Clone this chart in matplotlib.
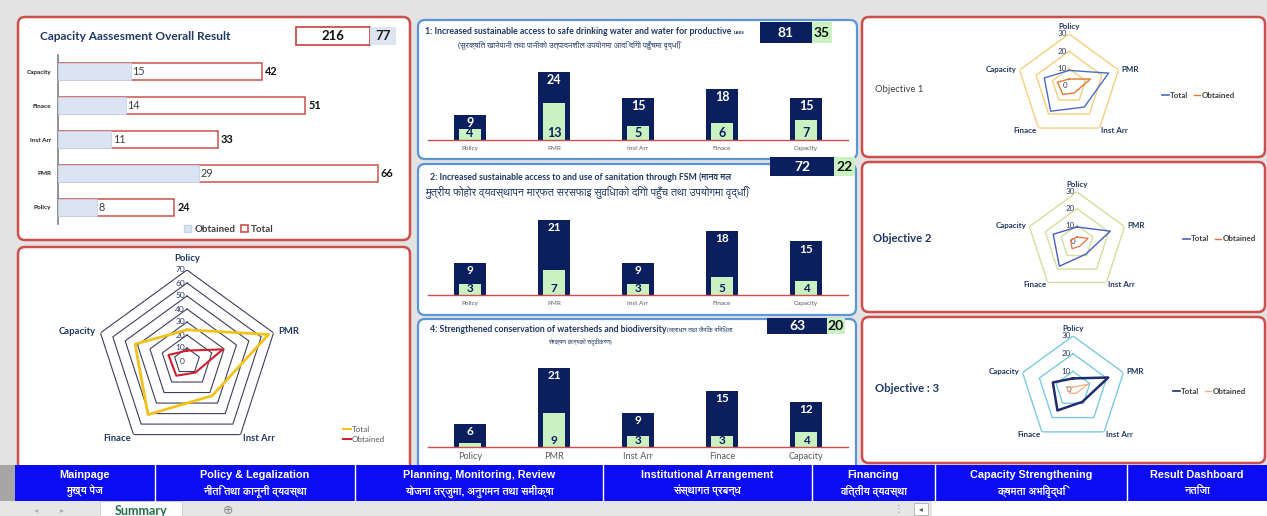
import numpy as np
import matplotlib
matplotlib.use('Agg')
import matplotlib.pyplot as plt
from matplotlib import font_manager
from matplotlib.patches import FancyBboxPatch, Rectangle, Patch
from matplotlib.lines import Line2D

# ---------------- data ----------------
categories = ['Policy', 'PMR', 'Inst Arr', 'Finace', 'Capacity']
overall_total = [24, 66, 33, 51, 42]
overall_obtained = [8, 29, 11, 14, 15]

obj1_total = [9, 24, 15, 18, 15]
obj1_obtained = [4, 13, 5, 6, 7]
obj2_total = [9, 21, 9, 18, 15]
obj2_obtained = [3, 7, 3, 5, 4]
obj4_total = [6, 21, 9, 15, 12]
obj4_obtained = [1, 9, 3, 3, 4]

big_radar_ticks = [0, 10, 20, 30, 40, 50, 60, 70]
small_radar_ticks = [0, 10, 20, 30]

title_overall = 'Capacity Aassesment Overall Result'
title_obj1 = '1: Increased sustainable access to safe drinking water and water for productive'
title_obj1_tail = 'uses'
sub_obj1 = '(सुरक्षित खानेपानी तथा पानीको उत्पादनशील उपयोगमा आदि दिगो पहुँचमा वृद्धि)'
title_obj2 = '2: Increased sustainable access to and use of sanitation through FSM (मानव मल'
sub_obj2 = 'मुत्रीय फोहोर व्यवस्थापन मार्फत सरसफाइ सुविधाको दिगो पहुँच तथा उपयोगमा वृद्धि)'
title_obj4 = '4: Strengthened conservation of watersheds and biodiversity'
title_obj4_tail = '(जलाधार तथा जैविक विविधता'
sub_obj4 = 'संरक्षण कार्यको सदृढीकरण)'
radar_names = ['Objective 1', 'Objective 2', 'Objective : 3']

nav_en = ['Mainpage', 'Policy & Legalization', 'Planning, Monitoring, Review',
          'Institutional Arrangement', 'Financing', 'Capacity Strengthening',
          'Result Dashboard']
nav_ne = ['मुख्य पेज', 'नीति तथा कानूनी व्यवस्था', 'योजना तर्जुमा, अनुगमन तथा समीक्षा',
          'संस्थागत प्रबन्ध', 'वित्तीय व्यवस्था', 'क्षमता अभिवृद्धि', 'नतिजा']
sheet_tab = 'Summary'

# ---------------- fonts ----------------
deva = []
keys = ('Devanagari', 'Lohit', 'Mukta', 'Hind', 'Kalimati', 'Gargi', 'Sarai',
        'Samanata', 'FreeSans', 'FreeSerif', 'Mangal', 'Kokila', 'Nirmala')
for f in font_manager.fontManager.ttflist:
    if any(k in f.name for k in keys) and f.name not in deva:
        deva.append(f.name)
plt.rcParams['font.family'] = ['Lato'] + deva + ['DejaVu Sans']
NAVFONT = ['Liberation Sans'] + deva + ['DejaVu Sans']

# ---------------- colours ----------------
NAVY = '#0b1f5e'
GREEN = '#c9f1c1'
RED = '#cc4f4c'
BLUEB = '#5b95d3'
TITLE = '#1f3864'
LIGHTBLUE = '#dae4f3'

W, H = 1267, 516
fig = plt.figure(figsize=(W / 100, H / 100), dpi=100)
fig.patch.set_facecolor('#e3e3e3')


def px(x0, y0, x1, y1):
    return [x0 / W, 1 - y1 / H, (x1 - x0) / W, (y1 - y0) / H]


bg = fig.add_axes([0, 0, 1, 1])
bg.set_xlim(0, W)
bg.set_ylim(H, 0)
bg.axis('off')


def panel(x0, y0, x1, y1, ec, lw=1.8):
    bg.add_patch(FancyBboxPatch((x0, y0), x1 - x0, y1 - y0,
                                boxstyle='round,pad=0,rounding_size=7',
                                fc='white', ec=ec, lw=lw))


panel(18, 17, 410, 240, RED)
panel(18, 247, 410, 485, RED)
panel(418, 20, 857, 159, BLUEB, 1.6)
panel(418, 164, 856, 315, BLUEB, 1.6)
panel(418, 319, 856, 485, BLUEB, 1.6)
panel(862, 17, 1265, 157, RED)
panel(862, 162, 1265, 312, RED)
panel(862, 317, 1265, 463, RED)


def value_box(x0, x1, x2, y0, y1, total, obtained, fs=10):
    bg.add_patch(Rectangle((x0, y0), x1 - x0, y1 - y0, fc=NAVY, ec='none', zorder=3))
    bg.add_patch(Rectangle((x1, y0), x2 - x1, y1 - y0, fc=GREEN, ec='none', zorder=3))
    bg.text((x0 + x1) / 2, (y0 + y1) / 2 + 0.5, str(total), color='white', fontsize=fs,
            fontweight='bold', ha='center', va='center', zorder=4)
    bg.text((x1 + x2) / 2, (y0 + y1) / 2 + 0.5, str(obtained), color='#111111', fontsize=fs,
            fontweight='bold', ha='center', va='center', zorder=4)


# ---------------- overall horizontal bar chart ----------------
bg.text(40, 36, title_overall, fontsize=8.6, fontweight='bold', color=TITLE,
        ha='left', va='center')
bg.add_patch(Rectangle((296, 27), 74, 18, fc='white', ec=RED, lw=1.3, zorder=3))
bg.add_patch(Rectangle((370, 27), 26, 18, fc='#dde6f0', ec='none', zorder=3))
bg.text(333, 36.5, str(sum(overall_total)), fontsize=9.5, fontweight='bold', color='#111111',
        ha='center', va='center', zorder=4)
bg.text(383, 36.5, str(sum(overall_obtained)), fontsize=9.5, fontweight='bold', color='#222222',
        ha='center', va='center', zorder=4)

axh = fig.add_axes(px(58, 55, 400, 224))
axh.patch.set_alpha(0)
yy = np.arange(len(categories))
axh.barh(yy, overall_total, height=0.5, color='white', edgecolor=RED, lw=1.1, zorder=2,
         label='Total')
axh.barh(yy, overall_obtained, height=0.5, color=LIGHTBLUE, edgecolor='#c6d3e8', lw=0.6,
         zorder=3, label='Obtained')
axh.set_xlim(0, 70.5)
axh.set_ylim(-0.5, 4.5)
axh.set_xticks([])
axh.set_yticks(yy)
axh.set_yticklabels(categories, fontsize=4.6, fontweight='bold', color='#222222')
axh.tick_params(axis='y', length=0, pad=5)
for s in ['top', 'right', 'bottom']:
    axh.spines[s].set_visible(False)
axh.spines['left'].set_color('#7f7f7f')
axh.spines['left'].set_linewidth(1.2)
for y, t, o in zip(yy, overall_total, overall_obtained):
    axh.annotate(str(o), (o, y), xytext=(1.2, 0), textcoords='offset points',
                 ha='left', va='center', fontsize=7.8, color='#404040', zorder=5)
    axh.annotate(str(t), (t, y), xytext=(2, 0), textcoords='offset points',
                 ha='left', va='center', fontsize=7.8, fontweight='bold', color='#111111',
                 zorder=5)
fig.legend(handles=[Patch(fc=LIGHTBLUE, ec='#c6d3e8', label='Obtained'),
                    Patch(fc='white', ec=RED, lw=1.2, label='Total')],
           loc='center', bbox_to_anchor=(229 / W, 1 - 229 / H), ncol=2, frameon=False,
           handlelength=0.7, handleheight=0.7, handletextpad=0.3,
           columnspacing=0.6, labelcolor='#404040', prop={'weight': 'bold', 'size': 7})

# ---------------- radar helpers ----------------
N = len(categories)
angles = np.arange(N) * 2 * np.pi / N
closed = np.r_[angles, angles[0]]


def radar(cx, cy, R, ticks, series, grid_color, grid_lw, lab_fs, tick_fs, tick_color):
    ax = fig.add_axes(px(cx - R, cy - R, cx + R, cy + R), projection='polar')
    ax.set_theta_offset(np.pi / 2)
    ax.set_theta_direction(-1)
    ax.set_ylim(0, ticks[-1])
    ax.grid(False)
    ax.spines['polar'].set_visible(False)
    ax.set_xticks([])
    ax.set_yticks([])
    ax.patch.set_alpha(0)
    for r in ticks[1:]:
        ax.plot(closed, [r] * (N + 1), color=grid_color, lw=grid_lw, zorder=1)
    for r in ticks:
        ax.annotate(str(r), (0, r), xytext=(-1.5, 0), textcoords='offset points',
                    ha='right', va='center', fontsize=tick_fs, color=tick_color, zorder=2)
    rmax = ticks[-1]
    for a, name in zip(angles, categories):
        s, c = np.sin(a), np.cos(a)
        ha = 'left' if s > 0.1 else ('right' if s < -0.1 else 'center')
        va = 'bottom' if c > 0.9 else 'center'
        rr = rmax * (1.08 if c > 0.9 else 1.05)
        ax.text(a, rr, name, ha=ha, va=va, fontsize=lab_fs, fontweight='bold',
                color=TITLE, zorder=3)
    for vals, col, lw in series:
        ax.plot(closed, list(vals) + [vals[0]], color=col, lw=lw, zorder=4)
    return ax


# big radar
radar(187, 361, 91, big_radar_ticks,
      [(overall_total, '#f1c21b', 2.0), (overall_obtained, '#d0202e', 1.5)],
      '#3c3f5c', 0.8, 6.8, 6.0, '#2a3a6a')
fig.legend(handles=[Line2D([], [], color='#f1c21b', lw=1.5, label='Total'),
                    Line2D([], [], color='#d0202e', lw=1.5, label='Obtained')],
           loc='upper left', bbox_to_anchor=(336 / W, 1 - 419 / H), frameon=False,
           fontsize=5.8, handlelength=0.9, handletextpad=0.2, labelspacing=0.35,
           labelcolor='#595959')

# small radars
small = [
    (1069, 86, 52, obj1_total, obj1_obtained, '#f4cf7c', '#4a6cc8', 1.0, '#e07b30', 1.0),
    (1077, 242, 50, obj2_total, obj2_obtained, '#d3df9a', '#4a5cc0', 1.0, '#ec7040', 0.9),
    (1073, 389, 53, obj4_total, obj4_obtained, '#7cc9e2', '#1f2d6c', 1.8, '#f2ae80', 0.9),
]
legend_pos = [(1155, 95), (1176, 239), (1166, 391)]
for (cx, cy, R, tot, obt, gc, tc, tlw, oc, olw), (lx, ly) in zip(small, legend_pos):
    radar(cx, cy, R, small_radar_ticks, [(tot, tc, tlw), (obt, oc, olw)],
          gc, 1.0, 5.8, 5.8, '#2a3a6a')
    fig.legend(handles=[Line2D([], [], color=tc, lw=1.2, label='Total'),
                        Line2D([], [], color=oc, lw=1.0, label='Obtained')],
               loc='center left', bbox_to_anchor=(lx / W, 1 - ly / H), ncol=2,
               frameon=False, handlelength=0.8, handletextpad=0.15, columnspacing=0.7,
               labelcolor='#404040', prop={'weight': 'bold', 'size': 5.8})

bg.text(875, 89, radar_names[0], fontsize=6.8, color='#404040', ha='left', va='center')
bg.text(873, 239, radar_names[1], fontsize=8.2, fontweight='bold', color=TITLE,
        ha='left', va='center')
bg.text(875, 389, radar_names[2], fontsize=8.2, fontweight='bold', color=TITLE,
        ha='left', va='center')

# ---------------- objective bar charts ----------------


def obj_bars(y_top, y_base, ymax, totals, obtained, lab_fs, lab_pad, val_fs):
    ax = fig.add_axes(px(428, y_top, 848, y_base))
    ax.patch.set_alpha(0)
    x = np.arange(len(categories))
    ax.bar(x, totals, width=0.39, color=NAVY, zorder=2)
    ax.bar(x, obtained, width=0.26, color=GREEN, zorder=3)
    ax.set_xlim(-0.5, len(categories) - 0.5)
    ax.set_ylim(0, ymax)
    for s in ['top', 'right', 'left']:
        ax.spines[s].set_visible(False)
    ax.spines['bottom'].set_color(RED)
    ax.spines['bottom'].set_linewidth(1.0)
    ax.spines['bottom'].set_zorder(5)
    ax.set_yticks([])
    ax.set_xticks(x)
    ax.set_xticklabels(categories, fontsize=lab_fs, color='#595959')
    ax.tick_params(axis='x', length=0, pad=lab_pad)
    for xi, t, o in zip(x, totals, obtained):
        ax.annotate(str(t), (xi, t), xytext=(0, -1.5), textcoords='offset points',
                    ha='center', va='top', color='white', fontweight='bold',
                    fontsize=val_fs, zorder=4)
        if o >= 2:  # label of a sliver-thin bar is hidden behind the total bar
            ax.annotate(str(o), (xi, 0), xytext=(0, 0.8), textcoords='offset points',
                        ha='center', va='bottom', color=NAVY, fontweight='bold',
                        fontsize=val_fs, zorder=4)
    return ax


obj_bars(60, 140, 28.3, obj1_total, obj1_obtained, 4.6, 4.5, 9)
obj_bars(205, 295, 25.2, obj2_total, obj2_obtained, 4.6, 4.5, 8.5)
obj_bars(360, 447, 23.1, obj4_total, obj4_obtained, 6.6, 3.5, 8.5)

t1 = bg.text(425, 32, title_obj1, fontsize=6.3, fontweight='bold', color=TITLE,
             ha='left', va='center')
bg.annotate(title_obj1_tail, xy=(1, 0.5), xycoords=t1, xytext=(2, 0),
            textcoords='offset points', fontsize=4.0, fontweight='bold', color=TITLE,
            ha='left', va='center')
bg.text(458, 45, sub_obj1, fontsize=5.8, color=TITLE, ha='left', va='center')
value_box(760, 812, 832, 22, 43, sum(obj1_total), sum(obj1_obtained))

bg.text(430, 177, title_obj2, fontsize=6.3, fontweight='bold', color=TITLE,
        ha='left', va='center')
bg.text(425, 192, sub_obj2, fontsize=7.8, color=TITLE, ha='left', va='center')
value_box(770, 834, 855, 157, 176, sum(obj2_total), sum(obj2_obtained))

t4 = bg.text(430, 329, title_obj4, fontsize=6.3, fontweight='bold', color=TITLE,
             ha='left', va='center')
bg.annotate(title_obj4_tail, xy=(1, 0.5), xycoords=t4, xytext=(0.5, 0),
            textcoords='offset points', fontsize=4.6, color=TITLE,
            ha='left', va='center')
bg.text(548, 342, sub_obj4, fontsize=4.4, color=TITLE, ha='left', va='center')
value_box(767, 827, 845, 318, 334, sum(obj4_total), sum(obj4_obtained))

# ---------------- navigation bar & sheet tabs ----------------
top = fig.add_axes([0, 0, 1, 1])
top.set_xlim(0, W)
top.set_ylim(H, 0)
top.axis('off')
top.patch.set_alpha(0)
top.add_patch(Rectangle((0, 465), 15, 36, fc='#a6a6a6', ec='none'))
top.add_patch(Rectangle((15, 465), W - 15, 36, fc='#0c0cf2', ec='none'))
nav_edges = [15, 155, 355, 603, 812, 935, 1127, 1267]
for e in nav_edges[1:-1]:
    top.plot([e, e], [465, 501], color='white', lw=1.0)
for i, (en, ne) in enumerate(zip(nav_en, nav_ne)):
    xc = (nav_edges[i] + nav_edges[i + 1]) / 2
    top.text(xc, 475, en, fontsize=7.8, fontweight='bold', color='white', ha='center',
             va='center', family=NAVFONT)
    top.text(xc, 491, ne, fontsize=7.6, fontweight='bold', color='white', ha='center',
             va='center', family=NAVFONT)
top.add_patch(Rectangle((0, 501), W, 15, fc='#e6e6e6', ec='none'))
top.add_patch(Rectangle((932, 501), W - 932, 15, fc='white', ec='none'))
top.add_patch(Rectangle((100, 501), 82, 15, fc='white', ec='#c8c8c8', lw=0.6))
top.text(141, 511, sheet_tab, fontsize=9, fontweight='bold', color='#1e7145',
         ha='center', va='center')
top.text(228, 510, '⊕', fontsize=9, color='#8a8a8a', ha='center', va='center',
         family=['DejaVu Sans'])
top.text(36, 510, '◂', fontsize=6, color='#b0b0b0', ha='center', va='center',
         family=['DejaVu Sans'])
top.text(62, 510, '▸', fontsize=6, color='#b0b0b0', ha='center', va='center',
         family=['DejaVu Sans'])
top.text(898, 509, '⋮', fontsize=7, color='#9a9a9a', ha='center', va='center',
         family=['DejaVu Sans'])
top.add_patch(Rectangle((914, 503), 14, 12, fc='white', ec='#b0b0b0', lw=0.6))
top.text(921, 509, '◂', fontsize=5.5, color='#555555', ha='center', va='center',
         family=['DejaVu Sans'])

fig.savefig('out.png', dpi=100, facecolor=fig.get_facecolor())
